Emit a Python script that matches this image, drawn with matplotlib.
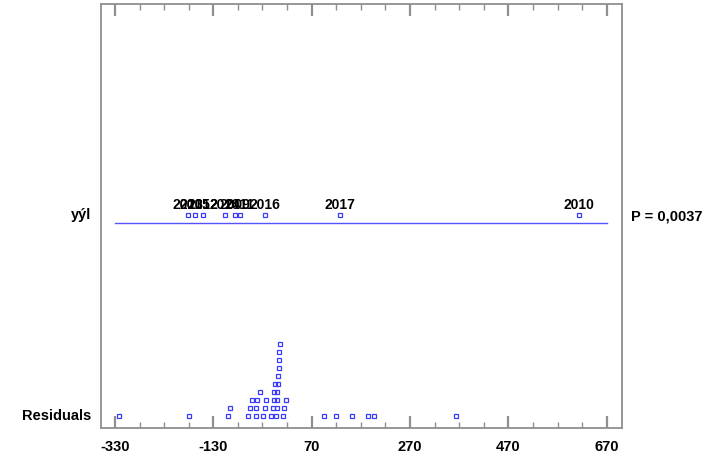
import matplotlib
matplotlib.use("Agg")
import matplotlib.pyplot as plt
from matplotlib.ticker import MultipleLocator, FixedLocator

plt.rcParams['font.family'] = ['Liberation Sans', 'DejaVu Sans']

# Scaled year effects (graphical ANOVA)
years = ["2013", "2015", "2012", "2014", "2009", "2011", "2016", "2017", "2010"]
year_effects = [-181, -167, -151, -106, -86, -76, -25, 128, 614]
factor_name = "yýl"
p_value_text = "P = 0,0037"

# Residuals
residuals = [-322, -180, -100, -96, -60, -56, -51, -43, -43, -42, -35,
             -29, -25, -22, -13, -9, -7, -6, -5, -2, -1, 0, 0, 1, 1,
             3, 3, 4, 6, 12, 14, 18, 95, 119, 152, 185, 196, 364]

tick_values = [-330, -130, 70, 270, 470, 670]

# stack residuals whose value lies close to the first point of a column
stack_width = 10
res_sorted = sorted(residuals)
levels = []
base = None
lev = 0
for v in res_sorted:
    if base is None or v - base >= stack_width:
        base = v
        lev = 0
    else:
        lev += 1
    levels.append(lev)

fig = plt.figure(figsize=(7.17, 4.58), dpi=100)
ax = fig.add_axes([0.1404, 0.0662, 0.7271, 0.9257])
ax.set_xlim(-359, 701)
ax.set_ylim(0, 424)

blue = '#3a3aff'
row_y = 212.5
line_y = 204.5

# factor row
ax.plot([tick_values[0], tick_values[-1]], [line_y, line_y], color='#5555ff', lw=1.0)
ax.plot(year_effects, [row_y] * len(year_effects), linestyle='none', marker='s',
        ms=2.9, mfc='none', mec=blue, mew=0.9)
for yr, v in zip(years, year_effects):
    ax.text(v, row_y + 3, yr, ha='center', va='bottom', fontsize=10,
            fontweight='bold', color='black')

# residual dot diagram
res_y = [12 + 8 * l for l in levels]
ax.plot(res_sorted, res_y, linestyle='none', marker='s', ms=2.9, mfc='none',
        mec=blue, mew=0.9)

# axes styling
frame = '#8f8f8f'
for s in ax.spines.values():
    s.set_color(frame)
    s.set_linewidth(1.3)
ax.xaxis.set_major_locator(FixedLocator(tick_values))
ax.xaxis.set_minor_locator(MultipleLocator(50, offset=20))
ax.set_xticklabels([str(t) for t in tick_values])
ax.tick_params(axis='x', which='major', direction='in', length=8.5, width=1.6,
               color=frame, top=True, labeltop=False, pad=9, labelsize=10.5)
ax.tick_params(axis='x', which='minor', direction='in', length=4, width=1.0,
               color=frame, top=True)
for lbl in ax.get_xticklabels():
    lbl.set_fontweight('bold')
ax.set_yticks([])

# row labels
ax.text(-0.018, row_y, factor_name, transform=ax.get_yaxis_transform(),
        ha='right', va='center', fontsize=10.5, fontweight='bold')
ax.text(-0.018, 12, "Residuals", transform=ax.get_yaxis_transform(),
        ha='right', va='center', fontsize=10.5, fontweight='bold')
ax.text(1.017, row_y - 1, p_value_text, transform=ax.get_yaxis_transform(),
        ha='left', va='center', fontsize=10.5, fontweight='bold')

fig.savefig("out.png", dpi=100)
